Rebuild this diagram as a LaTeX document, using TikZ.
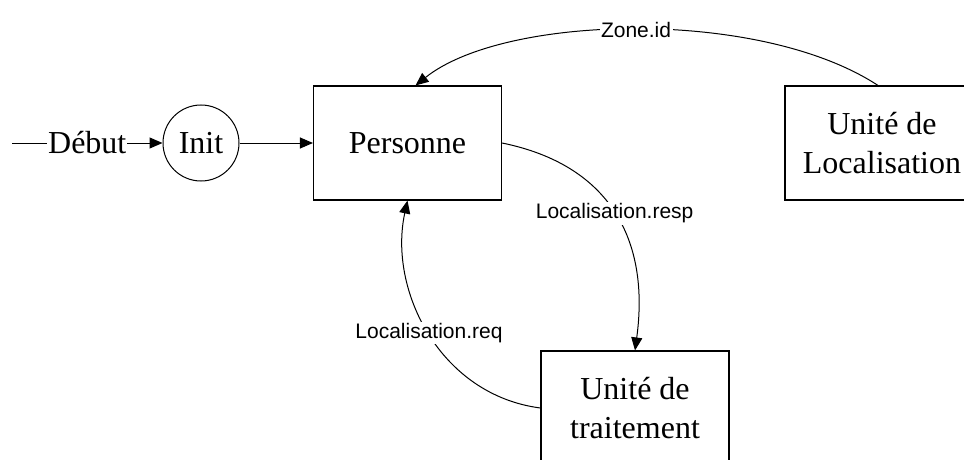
\documentclass[tikz,border=0pt]{standalone}
\usepackage{fontspec}
\setmainfont{Liberation Serif}
\newfontfamily\lblfont{Liberation Sans}
\usetikzlibrary{arrows.meta}
\begin{document}
\begin{tikzpicture}[x=1pt,y=-1pt,
  box/.style={draw, line width=1.1pt, minimum width=188pt, minimum height=114pt, inner sep=0pt, align=center, font=\fontsize{32}{39}\selectfont},
  state/.style={draw, circle, line width=1pt, minimum size=76pt, inner sep=0pt, font=\fontsize{32}{39}\selectfont},
  conn/.style={line width=1pt, -{Triangle[length=13pt,width=11pt]}},
  lbl/.style={fill=white, inner sep=1.5pt, font=\lblfont\fontsize{21}{25}\selectfont},
  slbl/.style={fill=white, inner sep=1pt, font=\fontsize{32}{39}\selectfont}]
\useasboundingbox (0,0) rectangle (964,460);
\clip (0,0) rectangle (964,460);

\coordinate (start) at (12,143);
\node[state] (init) at (201,143) {Init};
\node[box] (personne) at (407.5,143) {Personne};
\node[box, minimum width=194pt] (loc) at (882,143) {Unité de\\Localisation};
\node[box] (trait) at (635,408) {Unité de\\traitement};

\draw[conn] (start) -- node[slbl] {Début} (init);
\draw[conn] (init) -- (personne);
\draw[conn] ([xshift=-4pt]loc.north) .. controls (760,8) and (505,14) .. ([xshift=8pt]personne.north)
  node[pos=0.5, lbl] {Zone.id};
\draw[conn] (personne.east) .. controls (610,165) and (650,240) .. (trait.north)
  node[pos=0.5, lbl] {Localisation.resp};
\draw[conn] (trait.west) .. controls (440,395) and (388,290) .. (personne.south)
  node[pos=0.5, lbl] {Localisation.req};
\end{tikzpicture}
\end{document}
